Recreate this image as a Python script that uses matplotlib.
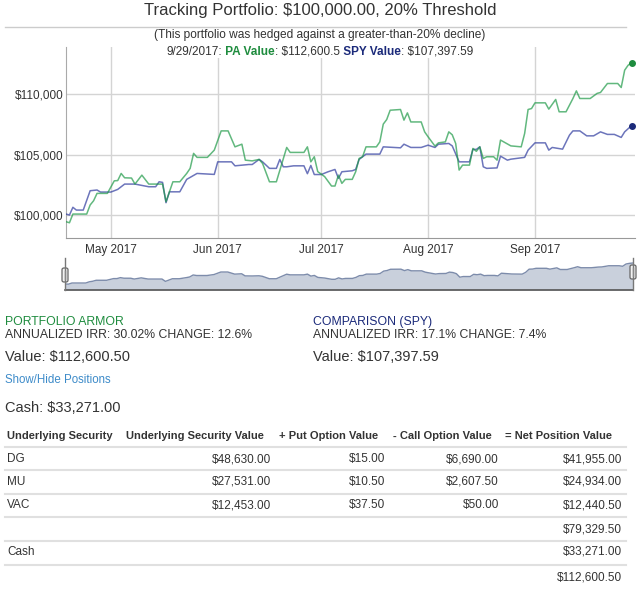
import matplotlib
matplotlib.use("Agg")
import matplotlib.pyplot as plt
import matplotlib.dates as mdates
import pandas as pd
from matplotlib.lines import Line2D
from matplotlib.patches import FancyBboxPatch, Rectangle
from matplotlib.ticker import FuncFormatter

plt.rcParams['font.family'] = ['Liberation Sans', 'DejaVu Sans']

# SPY comparison series (break points)
spy_dates = ["2017-04-18", "2017-04-19", "2017-04-20", "2017-04-21", "2017-04-23", "2017-04-25",
             "2017-04-27", "2017-04-28", "2017-05-01", "2017-05-03", "2017-05-05", "2017-05-08",
             "2017-05-12", "2017-05-14", "2017-05-15", "2017-05-16", "2017-05-17", "2017-05-18",
             "2017-05-21", "2017-05-23", "2017-05-26", "2017-05-31", "2017-06-01", "2017-06-05",
             "2017-06-06", "2017-06-10", "2017-06-11", "2017-06-13", "2017-06-14", "2017-06-16",
             "2017-06-18", "2017-06-19", "2017-06-20", "2017-06-21", "2017-06-23", "2017-06-26",
             "2017-06-27", "2017-06-28", "2017-06-29", "2017-07-01", "2017-07-03", "2017-07-05",
             "2017-07-06", "2017-07-07", "2017-07-10", "2017-07-11", "2017-07-12", "2017-07-14",
             "2017-07-18", "2017-07-19", "2017-07-24", "2017-07-25", "2017-07-27", "2017-07-30",
             "2017-08-01", "2017-08-03", "2017-08-04", "2017-08-07", "2017-08-08", "2017-08-10",
             "2017-08-13", "2017-08-14", "2017-08-15", "2017-08-16", "2017-08-17", "2017-08-18",
             "2017-08-21", "2017-08-22", "2017-08-24", "2017-08-25", "2017-08-29", "2017-08-30",
             "2017-09-01", "2017-09-04", "2017-09-05", "2017-09-06", "2017-09-09", "2017-09-11",
             "2017-09-12", "2017-09-14", "2017-09-16", "2017-09-18", "2017-09-20", "2017-09-22",
             "2017-09-24", "2017-09-26", "2017-09-27", "2017-09-29"]
spy_values = [100080, 100000, 100640, 100410, 100410, 102010,
              102070, 101900, 101900, 102120, 102560, 102560,
              102340, 102340, 102750, 102700, 101020, 101920,
              101920, 102950, 103440, 103360, 104400, 104400,
              104070, 104180, 104180, 104600, 104400, 103860,
              103860, 104600, 103990, 103990, 104070, 104070,
              103420, 104100, 103350, 103350, 103580, 103770,
              103030, 103580, 103660, 103770, 104600, 105040,
              105040, 105640, 105560, 105860, 105590, 105590,
              105780, 105590, 105860, 105920, 105720, 104400,
              104400, 105430, 105430, 105640, 103990, 103860,
              103900, 104870, 104540, 104620, 104770, 105370,
              105970, 105970, 105370, 105590, 105450, 106610,
              106960, 106960, 106550, 106550, 106880, 106670,
              106670, 106420, 106880, 107397.59]

# Portfolio Armor series
pa_dates = ["2017-04-18", "2017-04-19", "2017-04-20", "2017-04-24", "2017-04-25", "2017-04-26",
            "2017-04-27", "2017-04-30", "2017-05-02", "2017-05-03", "2017-05-04", "2017-05-05",
            "2017-05-07", "2017-05-08", "2017-05-10", "2017-05-12", "2017-05-16", "2017-05-17",
            "2017-05-19", "2017-05-21", "2017-05-23", "2017-05-24", "2017-05-25", "2017-05-26",
            "2017-05-29", "2017-05-31", "2017-06-02", "2017-06-04", "2017-06-06", "2017-06-08",
            "2017-06-09", "2017-06-11", "2017-06-13", "2017-06-14", "2017-06-16", "2017-06-18",
            "2017-06-21", "2017-06-22", "2017-06-26", "2017-06-27", "2017-06-28", "2017-06-29",
            "2017-06-30", "2017-07-02", "2017-07-04", "2017-07-05", "2017-07-06", "2017-07-07",
            "2017-07-08", "2017-07-10", "2017-07-11", "2017-07-12", "2017-07-13", "2017-07-14",
            "2017-07-17", "2017-07-18", "2017-07-19", "2017-07-20", "2017-07-21", "2017-07-24",
            "2017-07-25", "2017-07-26", "2017-07-27", "2017-07-30", "2017-07-31", "2017-08-01",
            "2017-08-03", "2017-08-04", "2017-08-06", "2017-08-07", "2017-08-08", "2017-08-09",
            "2017-08-10", "2017-08-11", "2017-08-13", "2017-08-14", "2017-08-15", "2017-08-16",
            "2017-08-17", "2017-08-18", "2017-08-20", "2017-08-21", "2017-08-22", "2017-08-25",
            "2017-08-28", "2017-08-29", "2017-08-30", "2017-08-31", "2017-09-01", "2017-09-04",
            "2017-09-05", "2017-09-07", "2017-09-08", "2017-09-10", "2017-09-12", "2017-09-13",
            "2017-09-14", "2017-09-17", "2017-09-19", "2017-09-20", "2017-09-22", "2017-09-25",
            "2017-09-26", "2017-09-27", "2017-09-28", "2017-09-29"]
pa_values = [99450, 99360, 100080, 100080, 100830, 101180,
             101790, 101790, 102830, 102850, 103440, 103080,
             103060, 102560, 103300, 102560, 102560, 101100,
             102750, 102750, 103440, 103860, 105100, 104770,
             104770, 105370, 106960, 106960, 105640, 105860,
             104540, 104480, 104600, 104270, 102750, 102750,
             105590, 105180, 105180, 105640, 104400, 104820,
             103590, 103180, 102400, 102400, 103300, 102620,
             102950, 102950, 103580, 104680, 104820, 105640,
             105640, 106050, 107520, 107900, 108670, 108730,
             107850, 108450, 107700, 107700, 106880, 106470,
             105700, 105970, 106050, 106880, 106640, 105920,
             103720, 104130, 104130, 105510, 105270, 105640,
             104680, 104820, 104820, 104540, 106200, 105720,
             105640, 106750, 108730, 108810, 109280, 109280,
             108760, 109560, 108540, 108540, 109640, 110270,
             109640, 109640, 110060, 110140, 110880, 110880,
             110550, 111980, 112390, 112600.50]

month_ticks = ["2017-05-01", "2017-06-01", "2017-07-01", "2017-08-01", "2017-09-01"]
y_ticks = [100000, 105000, 110000]

# positions table
table_header = ["Underlying Security", "Underlying Security Value", "+ Put Option Value",
                "- Call Option Value", "= Net Position Value"]
tickers = ["DG", "MU", "VAC"]
underlying_value = [48630.00, 27531.00, 12453.00]
put_value = [15.00, 10.50, 37.50]
call_value = [6690.00, 2607.50, 50.00]
net_value = [41955.00, 24934.00, 12440.50]
positions_total = 79329.50
cash = 33271.00
portfolio_total = 112600.50

W, H = 640, 589
TXT = '#333333'
GREEN = '#1e8c3e'
NAVY = '#1b2a7a'


def fx(x):
    return x / W


def fy(y):
    return 1 - y / H


def money(v):
    return f"${v:,.2f}"


fig = plt.figure(figsize=(W / 100, H / 100), dpi=100)

spy_dt = pd.to_datetime(spy_dates)
pa_dt = pd.to_datetime(pa_dates)
x0, x1 = pd.Timestamp("2017-04-18"), pd.Timestamp("2017-09-30")

# main chart
ax = fig.add_axes([fx(66), fy(238), (635 - 66) / W, (238 - 47) / H])
ax.plot(spy_dt, spy_values, color='#2e3a9e', lw=1.1, alpha=0.7, zorder=3)
ax.plot(pa_dt, pa_values, color='#1f9a48', lw=1.1, alpha=0.7, zorder=3)
ax.plot(spy_dt[-1:], spy_values[-1:], 'o', color=NAVY, ms=4, zorder=4)
ax.plot(pa_dt[-1:], pa_values[-1:], 'o', color=GREEN, ms=4, zorder=4)
ax.set_xlim(x0, x1)
ax.set_ylim(98100, 113900)
ax.set_xticks(pd.to_datetime(month_ticks))
ax.xaxis.set_major_formatter(mdates.DateFormatter('%b %Y'))
ax.set_yticks(y_ticks)
ax.yaxis.set_major_formatter(FuncFormatter(lambda v, p: f"${v:,.0f}"))
ax.grid(color='#d4d4d4', lw=1)
ax.set_axisbelow(True)
ax.tick_params(length=0, labelsize=8.5, colors=TXT)
ax.tick_params(axis='x', pad=4)
ax.tick_params(axis='y', pad=1.5)
for s in ['top', 'right']:
    ax.spines[s].set_visible(False)
ax.spines['left'].set_color('#aaaaaa')
ax.spines['bottom'].set_color('#999999')

# navigator
nav = fig.add_axes([fx(65), fy(290), (633 - 65) / W, (290 - 260) / H])
nav.fill_between(pa_dt, pa_values, 95700, color='#c9d0dc', lw=0)
nav.plot(pa_dt, pa_values, color='#7d8cab', lw=1)
nav.set_xlim(x0, pd.Timestamp("2017-09-29"))
nav.set_ylim(95700, 114480)
nav.set_xticks([])
nav.set_yticks([])
for s in ['top', 'right', 'left']:
    nav.spines[s].set_visible(False)
nav.spines['bottom'].set_color('#555555')
nav.spines['bottom'].set_linewidth(1.2)
for hx, hy in [(65, 275), (633, 272)]:
    fig.add_artist(Line2D([fx(hx), fx(hx)], [fy(258), fy(290)], color='#777777', lw=1))
    fig.add_artist(FancyBboxPatch((fx(hx - 3), fy(hy + 7)), fx(6), 14 / H,
                                  boxstyle="round,pad=0,rounding_size=0.003",
                                  facecolor='#f2f2f2', edgecolor='#666666', lw=0.9))
    fig.add_artist(Line2D([fx(hx), fx(hx)], [fy(hy - 4), fy(hy + 4)], color='#888888', lw=1))

# title block
fig.text(0.5, fy(11), "Tracking Portfolio: $100,000.00, 20% Threshold",
         ha='center', va='center', fontsize=12, color=TXT)
fig.add_artist(Line2D([fx(5), fx(626)], [fy(27), fy(27)], color='#cccccc', lw=1))
fig.text(0.5, fy(35), "(This portfolio was hedged against a greater-than-20% decline)",
         ha='center', va='center', fontsize=8.6, color=TXT)

# value readout line with mixed colours
parts = [("9/29/2017:", TXT, 'normal'), (" PA Value", GREEN, 'bold'),
         (": $112,600.5", TXT, 'normal'), (" SPY Value", NAVY, 'bold'),
         (": $107,397.59", TXT, 'normal')]
pieces = [fig.text(0, fy(52), s, color=c, fontweight=w, fontsize=8.5, va='center', zorder=3)
          for s, c, w in parts]
fig.canvas.draw()
r = fig.canvas.get_renderer()
widths = [t.get_window_extent(r).width for t in pieces]
total = sum(widths)
xpos = 320 - total / 2
fig.add_artist(Rectangle((fx(xpos - 3), fy(58)), fx(total + 6), 12 / H,
                         facecolor='white', edgecolor='none', zorder=2))
for t, w in zip(pieces, widths):
    t.set_x(fx(xpos))
    xpos += w

# summary block
fig.text(fx(5), fy(322), "PORTFOLIO ARMOR", color=GREEN, fontsize=8.8, va='center')
fig.text(fx(5), fy(335), "ANNUALIZED IRR: 30.02% CHANGE: 12.6%", color=TXT, fontsize=8.8, va='center')
fig.text(fx(5), fy(357), "Value: " + money(portfolio_total), color=TXT, fontsize=10.5, va='center')
fig.text(fx(313), fy(322), "COMPARISON (SPY)", color=NAVY, fontsize=8.8, va='center')
fig.text(fx(313), fy(335), "ANNUALIZED IRR: 17.1% CHANGE: 7.4%", color=TXT, fontsize=8.8, va='center')
fig.text(fx(313), fy(357), "Value: $107,397.59", color=TXT, fontsize=10.5, va='center')
fig.text(fx(5), fy(380), "Show/Hide Positions", color='#3d8bc9', fontsize=8.3, va='center')
fig.text(fx(5), fy(408), "Cash: " + money(cash), color=TXT, fontsize=10.5, va='center')

# positions table
head_x = [7, 126, 279, 393, 505]
right_x = [271, 385, 499, 622]
for hx, h in zip(head_x, table_header):
    fig.text(fx(hx), fy(436), h, fontweight='bold', fontsize=8, color=TXT, va='center')
for ly in [447, 470, 494, 517, 541, 565]:
    fig.add_artist(Line2D([fx(5), fx(626)], [fy(ly), fy(ly)], color='#e0e0e0', lw=1.5))
row_y = [459, 482, 505]
for i, tk in enumerate(tickers):
    fig.text(fx(7), fy(row_y[i]), tk, fontsize=8.5, color=TXT, va='center')
    for rx, v in zip(right_x, [underlying_value[i], put_value[i], call_value[i], net_value[i]]):
        fig.text(fx(rx), fy(row_y[i]), money(v), fontsize=8.5, color=TXT, va='center', ha='right')
fig.text(fx(622), fy(529), money(positions_total), fontsize=8.5, color=TXT, va='center', ha='right')
fig.text(fx(7), fy(552), "Cash", fontsize=8.5, color=TXT, va='center')
fig.text(fx(622), fy(552), money(cash), fontsize=8.5, color=TXT, va='center', ha='right')
fig.text(fx(622), fy(577), money(portfolio_total), fontsize=8.5, color=TXT, va='center', ha='right')

fig.savefig("out.png", dpi=100)
